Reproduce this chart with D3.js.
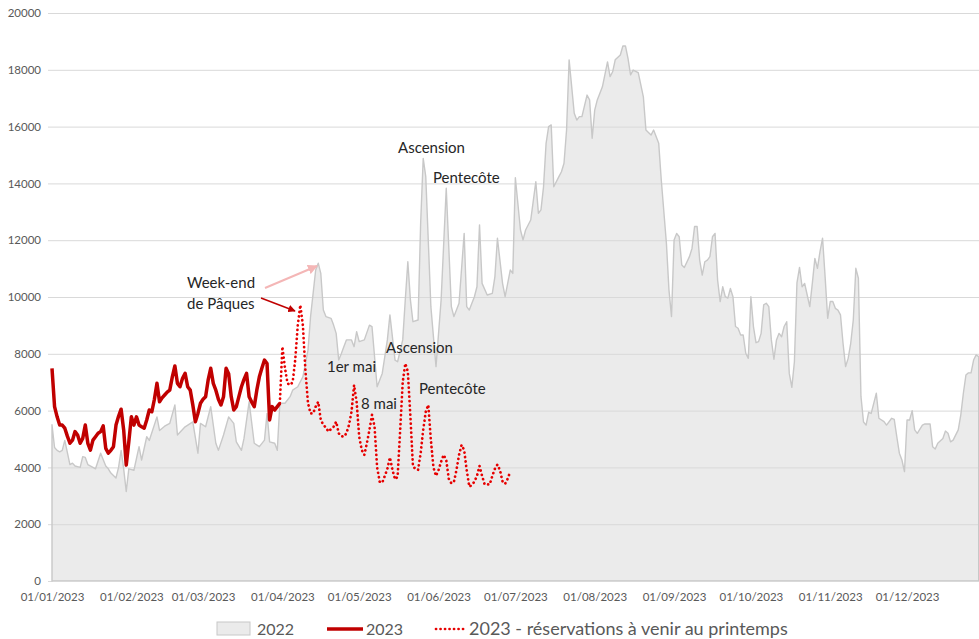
<!DOCTYPE html>
<html><head><meta charset="utf-8">
<script src="https://cdn.jsdelivr.net/npm/d3@7/dist/d3.min.js"></script>
<style>
body{margin:0;background:#fff}
svg{display:block}
text{font-family:Lato,"Liberation Sans",sans-serif}
</style></head>
<body><svg id="c" width="979" height="639"></svg>
<script>
// ---- DATA ----
const yTicks = [0,2000,4000,6000,8000,10000,12000,14000,16000,18000,20000];
const xTickDates = ["2023-01-01","2023-02-01","2023-03-01","2023-04-01","2023-05-01","2023-06-01","2023-07-01","2023-08-01","2023-09-01","2023-10-01","2023-11-01","2023-12-01"];
const legendLabels = ["2022","2023","2023 - réservations à venir au printemps"];

// 2022 (day offset from 1 Jan, value)
const days2022 = [0,1,2,3,4,5,7,8,9,11,12,13,14,16,17,19,21,22,23,25,26,27,28,29,30,32,34,35,37,38,41,42,44,46,48,49,52,55,57,58,60,62,64,65,67,69,71,72,74,75,77,79,81,83,84,85,87,88,89,91,93,94,96,98,100,101,103,104,105,106,107,109,110,111,112,113,114,115,117,118,119,120,122,124,125,127,129,131,132,134,135,137,138,139,140,141,143,144,145,146,148,150,152,154,156,157,159,161,162,163,165,166,167,168,170,172,173,174,176,177,178,179,180,181,183,184,185,187,189,190,191,192,193,194,195,196,198,199,200,201,202,204,205,206,207,209,210,211,212,213,215,217,218,219,220,222,223,224,225,226,227,229,231,232,234,235,237,238,240,241,242,243,244,245,246,247,249,250,251,252,253,254,255,256,257,258,259,260,261,262,263,264,265,266,267,268,269,270,271,272,273,274,275,276,277,278,279,280,281,282,283,284,285,286,287,288,289,290,291,292,293,294,295,296,297,298,299,300,301,302,303,304,305,306,307,308,309,310,311,312,313,314,315,316,317,318,319,320,322,323,325,326,328,329,330,331,332,333,334,335,336,337,338,340,341,343,344,345,346,348,349,350,351,352,354,355,356,357,358,359,360,361,362];
const values2022 = [5500,4700,4600,4550,4600,4950,4100,4150,4050,4000,4380,4350,4100,4000,3950,4500,4050,3950,3800,3630,4000,4600,3950,3150,3950,3900,4730,4260,5080,4950,5780,5300,5450,5550,6200,5140,5430,5600,4500,5550,5430,6140,4850,4600,5140,5780,5550,4900,4600,5020,6310,4850,4730,4960,5900,4900,4850,4600,6260,6260,6490,6720,6840,7190,8130,9310,10950,11190,10830,9540,9310,9250,9010,8720,7780,8000,8250,8490,8490,8250,8780,8430,8490,9010,8960,6840,7310,8490,9370,7780,7720,8490,9900,11240,9900,9130,9190,12600,14880,14240,9660,7550,9900,13830,9660,9310,9780,12240,9660,9540,10010,10360,12540,10480,10070,10130,10710,12070,10480,10010,10480,10950,10830,14200,12360,12010,12360,12710,14060,12950,13070,13880,15410,16000,16060,13880,14240,14410,14710,15880,18350,16470,16230,16350,16350,17110,16940,15590,16580,16940,17400,18280,17760,17930,18350,18520,18840,18840,18400,17820,17990,17900,17050,15880,15700,15880,15410,14120,11900,10250,9310,12010,12240,12120,11130,11040,11420,11710,12480,12480,11300,10770,11240,11300,11420,12120,12240,10600,9840,10360,10010,9960,10300,10010,8960,8900,8660,8660,8020,7840,10010,8960,8390,8430,8720,9720,9780,9660,8490,7810,8490,8720,8600,8960,9130,7310,6820,7720,10500,11040,10360,10480,10070,9660,10480,11360,11010,11600,12070,10710,9250,9840,9840,9600,9540,9370,8370,7550,7840,8370,9190,11010,10660,6500,5600,5490,5940,5900,6610,5730,5610,5490,5730,5690,5080,4500,4260,3850,5670,5670,6000,5320,5200,5490,5530,5530,4730,4650,4850,5020,5280,5200,4900,4960,5320,5850,6610,7250,7330,7330,7780,7960,7900];

// 2023 actual (daily from 1 Jan)
const values2023 = [7490,6140,5780,5490,5490,5380,5100,4850,4960,5260,
 5140,4850,5020,5490,4850,4610,4960,5080,5200,5260,
 5460,4670,4500,4600,4730,5490,5800,6050,5320,4080,
 4900,5780,5490,5780,5490,5430,5380,5670,6020,5960,
 6400,6960,6310,6450,6550,6650,6720,7190,7570,6960,
 6840,7140,7310,6840,6720,6200,5610,5900,6260,6400,
 6490,7080,7490,6960,6720,6400,6200,6490,7490,7300,
 6500,6020,6140,6490,6840,7100,7310,6490,6300,6140,
 6720,7190,7500,7780,7660,5670,6140,6020,6140,6260];

// 2023 bookings to come (daily from day 89)
const forecastStartDay = 89;
const valuesForecast = [6260,8250,7500,6960,6900,7000,7780,9000,9720,9000,
 7400,6260,5900,5900,6140,6310,5670,5500,5400,5260,
 5350,5430,5610,5200,5100,5080,5200,5490,5960,6900,
 6300,5080,4610,4440,4850,5320,5850,5430,4000,3500,
 3460,3700,3950,4350,3910,3580,3670,5300,7000,7660,
 7370,5800,4030,3950,3910,4500,5320,5960,6200,4960,
 4000,3700,3910,4200,4440,4260,3600,3440,3490,3910,
 4440,4790,4610,3900,3320,3380,3500,3700,4050,3700,
 3400,3400,3400,3700,3950,4100,3900,3500,3420,3600,3850];

const annotations = [
 {t:"Ascension", x:398, y:153},
 {t:"Pentecôte", x:433, y:183},
 {t:"Week-end", x:187, y:288},
 {t:"de Pâques", x:187, y:309},
 {t:"1er mai", x:327, y:372},
 {t:"8 mai", x:361, y:409},
 {t:"Ascension", x:386, y:353},
 {t:"Pentecôte", x:419, y:394}
];

// ---- CHART ----
const svg = d3.select("#c");
const t0 = Date.UTC(2023,0,1);
const dayToDate = d => new Date(t0 + d*864e5);
const x = d3.scaleUtc().domain([dayToDate(0), dayToDate(364)]).range([52, 52+364*2.56]);
const y = d3.scaleLinear().domain([0,20000]).range([581,13]);

const s2022 = days2022.map((d,i)=>({date:dayToDate(d), v:values2022[i]}));
const s2023 = values2023.map((v,i)=>({date:dayToDate(i), v}));
const sFc = valuesForecast.map((v,i)=>({date:dayToDate(forecastStartDay+i), v}));

// area fill
const area = d3.area().x(d=>x(d.date)).y0(y(0)).y1(d=>y(d.v));
svg.append("path").datum(s2022).attr("d",area).attr("fill","#ebebeb");

// gridlines
svg.append("g").attr("transform","translate(48,0)")
  .call(d3.axisLeft(y).tickValues(yTicks).tickSize(-(979-48)).tickFormat(""))
  .call(g=>g.select(".domain").remove())
  .call(g=>g.selectAll("line").attr("stroke","#d9d9d9").attr("stroke-width",1));

// area outline
svg.append("path").datum(s2022).attr("d",area).attr("fill","none")
  .attr("stroke","#c8c8c8").attr("stroke-width",1.4).attr("stroke-linejoin","round");

// y labels
svg.append("g").attr("transform","translate(48,0)")
  .call(d3.axisLeft(y).tickValues(yTicks).tickSize(0).tickPadding(7).tickFormat(d3.format("d")))
  .call(g=>g.select(".domain").remove())
  .call(g=>g.selectAll("text").attr("fill","#595959").style("font-size","11.5px").style("font-family","Lato"));

// x axis
svg.append("g").attr("transform","translate(0,581)")
  .call(d3.axisBottom(x).tickValues(xTickDates.map(s=>new Date(s+"T00:00:00Z"))).tickSize(0).tickPadding(12).tickFormat(d3.utcFormat("%d/%m/%Y")))
  .call(g=>g.select(".domain").attr("stroke","#d9d9d9"))
  .call(g=>g.selectAll("text").attr("fill","#595959").style("font-size","11.5px").style("font-family","Lato"));

// forecast dotted
const line = d3.line().x(d=>x(d.date)).y(d=>y(d.v));
svg.append("path").datum(sFc).attr("d",line).attr("fill","none")
  .attr("stroke","#e60000").attr("stroke-width",2.7).attr("stroke-linecap","round")
  .attr("stroke-dasharray","0.1 4.4");

// 2023 solid
svg.append("path").datum(s2023).attr("d",line).attr("fill","none")
  .attr("stroke","#c00000").attr("stroke-width",3.5).attr("stroke-linejoin","round");

// arrows
const defs = svg.append("defs");
function marker(id,color){
  defs.append("marker").attr("id",id).attr("viewBox","0 0 10 10").attr("refX",9).attr("refY",5)
   .attr("markerWidth",5).attr("markerHeight",5).attr("orient","auto")
   .append("path").attr("d","M0,0L10,5L0,10z").attr("fill",color);
}
marker("mr","#c00000"); marker("mp","#f4b6b6");
svg.append("line").attr("x1",265).attr("y1",288).attr("x2",317).attr("y2",266)
  .attr("stroke","#f4b6b6").attr("stroke-width",2).attr("marker-end","url(#mp)");
svg.append("line").attr("x1",261).attr("y1",298).attr("x2",295).attr("y2",311)
  .attr("stroke","#c00000").attr("stroke-width",1.5).attr("marker-end","url(#mr)");

// annotations
svg.append("g").selectAll("text").data(annotations).join("text")
  .attr("x",d=>d.x).attr("y",d=>d.y).text(d=>d.t)
  .attr("fill","#262626").style("font-size","15px");

// legend
const lg = svg.append("g").attr("fill","#595959");
lg.append("rect").attr("x",217).attr("y",622).attr("width",33).attr("height",13)
  .attr("fill","#ebebeb").attr("stroke","#c8c8c8");
lg.append("text").attr("x",257).attr("y",635).style("font-size","16px").text(legendLabels[0]);
lg.append("line").attr("x1",327).attr("x2",363).attr("y1",629).attr("y2",629)
  .attr("stroke","#c00000").attr("stroke-width",3.5);
lg.append("text").attr("x",366).attr("y",635).style("font-size","16px").text(legendLabels[1]);
lg.append("line").attr("x1",436).attr("x2",465).attr("y1",629).attr("y2",629)
  .attr("stroke","#e60000").attr("stroke-width",2.7).attr("stroke-linecap","round").attr("stroke-dasharray","0.1 4.4");
lg.append("text").attr("x",469).attr("y",635).style("font-size","18px").text(legendLabels[2]);
</script>
</body></html>
